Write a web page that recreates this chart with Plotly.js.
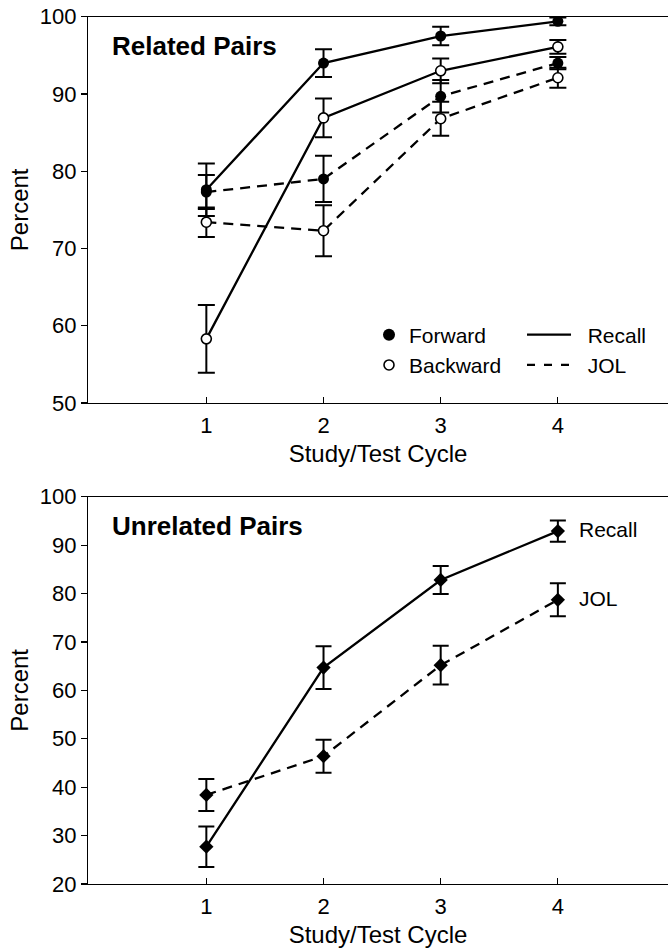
<!DOCTYPE html>
<html>
<head>
<meta charset="utf-8">
<script src="https://cdn.plot.ly/plotly-3.0.1.min.js"></script>
<style>html,body{margin:0;padding:0;background:#fff;}#chart{width:668px;height:951px;}</style>
</head>
<body>
<div id="chart"></div>
<script>
// ---- data ----
const cycles = [1, 2, 3, 4];
const cycleLabels = ['1', '2', '3', '4'];

// Related pairs
const fwdRecall = [77.6, 94.0, 97.5, 99.4];
const fwdRecallErr = [3.4, 1.8, 1.2, 0.5];
const bwdRecall = [58.3, 86.9, 93.0, 96.1];
const bwdRecallErr = [4.4, 2.5, 1.6, 0.9];
const fwdJOL = [77.3, 79.0, 89.7, 94.0];
const fwdJOLErr = [2.2, 3.0, 2.1, 0.8];
const bwdJOL = [73.4, 72.3, 86.8, 92.1];
const bwdJOLErr = [1.9, 3.3, 2.2, 1.3];

// Unrelated pairs
const unrelRecall = [27.7, 64.7, 82.8, 92.9];
const unrelRecallErr = [4.2, 4.4, 2.9, 2.2];
const unrelJOL = [38.4, 46.4, 65.2, 78.7];
const unrelJOLErr = [3.3, 3.4, 4.0, 3.4];

const relatedTicks = [50, 60, 70, 80, 90, 100];
const unrelatedTicks = [20, 30, 40, 50, 60, 70, 80, 90, 100];

// ---- styling ----
const FONT = 'Liberation Sans, Arial, Helvetica, sans-serif';
const BLACK = '#000';
const DASH = '10px,7px';
const LW = 2.3;

function errBar(arr, w) {
  return {type: 'data', array: arr, visible: true, color: BLACK, thickness: 2, width: w};
}
function filled(size) { return {symbol: 'circle', size: size, color: BLACK, line: {color: BLACK, width: 0}}; }
function open(size) { return {symbol: 'circle', size: size, color: '#fff', line: {color: BLACK, width: 1.6}}; }
function diamond(size) { return {symbol: 'diamond', size: size, color: BLACK, line: {color: BLACK, width: 0}}; }

const traces = [
  // Related: JOL first (below), then recall
  {x: cycles, y: fwdJOL, error_y: errBar(fwdJOLErr, 8.5), mode: 'lines+markers', xaxis: 'x', yaxis: 'y',
   line: {color: BLACK, width: LW, dash: DASH}, marker: filled(11), showlegend: false},
  {x: cycles, y: bwdJOL, error_y: errBar(bwdJOLErr, 8.5), mode: 'lines+markers', xaxis: 'x', yaxis: 'y',
   line: {color: BLACK, width: LW, dash: DASH}, marker: open(10), showlegend: false},
  {x: cycles, y: bwdRecall, error_y: errBar(bwdRecallErr, 8.5), mode: 'lines+markers', xaxis: 'x', yaxis: 'y',
   line: {color: BLACK, width: LW}, marker: open(10), showlegend: false},
  {x: cycles, y: fwdRecall, error_y: errBar(fwdRecallErr, 8.5), mode: 'lines+markers', xaxis: 'x', yaxis: 'y',
   line: {color: BLACK, width: LW}, marker: filled(11), showlegend: false},

  // Unrelated
  {x: cycles, y: unrelJOL, error_y: errBar(unrelJOLErr, 8), mode: 'lines+markers', xaxis: 'x2', yaxis: 'y2',
   line: {color: BLACK, width: LW, dash: DASH}, marker: diamond(11), showlegend: false},
  {x: cycles, y: unrelRecall, error_y: errBar(unrelRecallErr, 8), mode: 'lines+markers', xaxis: 'x2', yaxis: 'y2',
   line: {color: BLACK, width: LW}, marker: diamond(11), showlegend: false},

  // Legend keys
  {x: [null], y: [null], mode: 'markers', name: 'Forward', marker: filled(12), legend: 'legend', xaxis: 'x', yaxis: 'y'},
  {x: [null], y: [null], mode: 'markers', name: 'Backward', marker: open(10), legend: 'legend', xaxis: 'x', yaxis: 'y'},
  {x: [null], y: [null], mode: 'lines', name: '\u00a0\u00a0Recall', line: {color: BLACK, width: LW}, legend: 'legend2', xaxis: 'x', yaxis: 'y'},
  {x: [null], y: [null], mode: 'lines', name: '\u00a0\u00a0JOL', line: {color: BLACK, width: LW, dash: '8px,9px'}, legend: 'legend2', xaxis: 'x', yaxis: 'y'}
];

const H = 951;
function xAxis(anchor) {
  return {
    anchor: anchor, domain: [0, 1], range: [-0.01, 4.94],
    tickmode: 'array', tickvals: cycles, ticktext: cycleLabels,
    ticks: 'inside', ticklen: 6, tickwidth: 1.2, tickcolor: BLACK,
    showline: true, mirror: true, linecolor: BLACK, linewidth: 1.2,
    showgrid: false, zeroline: false, ticklabelstandoff: 2,
    tickfont: {family: FONT, size: 22, color: BLACK},
    title: {text: 'Study/Test Cycle', font: {family: FONT, size: 24, color: BLACK}, standoff: 8}
  };
}
function yAxis(anchor, domain, range, ticks) {
  return {
    anchor: anchor, domain: domain, range: range,
    tickmode: 'array', tickvals: ticks,
    ticks: 'outside', ticklen: 6, tickwidth: 1.2, tickcolor: BLACK,
    showline: true, linecolor: BLACK, linewidth: 1.2,
    showgrid: false, zeroline: false,
    tickfont: {family: FONT, size: 22, color: BLACK},
    title: {text: 'Percent', font: {family: FONT, size: 24, color: BLACK}, standoff: 4}
  };
}

const layout = {
  width: 668, height: 951,
  margin: {l: 88, r: 0, t: 0, b: 0},
  paper_bgcolor: '#fff', plot_bgcolor: '#fff',
  font: {family: FONT, color: BLACK},
  xaxis: xAxis('y'),
  yaxis: yAxis('x', [1 - 403 / H, 1 - 16.7 / H], [50, 100], relatedTicks),
  xaxis2: xAxis('y2'),
  yaxis2: yAxis('x2', [1 - 884 / H, 1 - 496.7 / H], [20, 100], unrelatedTicks),
  legend: {x: 0.4845, xanchor: 'left', y: 1 - 350 / H, yanchor: 'middle',
           font: {family: FONT, size: 21, color: BLACK}, bgcolor: 'rgba(0,0,0,0)',
           itemwidth: 30, tracegroupgap: 0},
  legend2: {x: 0.7483, xanchor: 'left', y: 1 - 350 / H, yanchor: 'middle',
            font: {family: FONT, size: 21, color: BLACK}, bgcolor: 'rgba(0,0,0,0)',
            itemwidth: 44, tracegroupgap: 0},
  annotations: [
    {xref: 'paper', yref: 'paper', x: (110 - 88) / 580, y: 1 - 46 / H, xanchor: 'left', yanchor: 'middle',
     text: '<b>Related Pairs</b>', showarrow: false, font: {family: FONT, size: 26, color: BLACK}},
    {xref: 'paper', yref: 'paper', x: (110 - 88) / 580, y: 1 - 526 / H, xanchor: 'left', yanchor: 'middle',
     text: '<b>Unrelated Pairs</b>', showarrow: false, font: {family: FONT, size: 26, color: BLACK}},
    {xref: 'x2', yref: 'y2', x: cycles[3], y: unrelRecall[3], xanchor: 'left', yanchor: 'middle', xshift: 19, yshift: 2,
     text: 'Recall', showarrow: false, font: {family: FONT, size: 21, color: BLACK}},
    {xref: 'x2', yref: 'y2', x: cycles[3], y: unrelJOL[3], xanchor: 'left', yanchor: 'middle', xshift: 19, yshift: 1,
     text: 'JOL', showarrow: false, font: {family: FONT, size: 21, color: BLACK}}
  ]
};

Plotly.newPlot('chart', traces, layout, {displayModeBar: false, staticPlot: true});
</script>
</body>
</html>
